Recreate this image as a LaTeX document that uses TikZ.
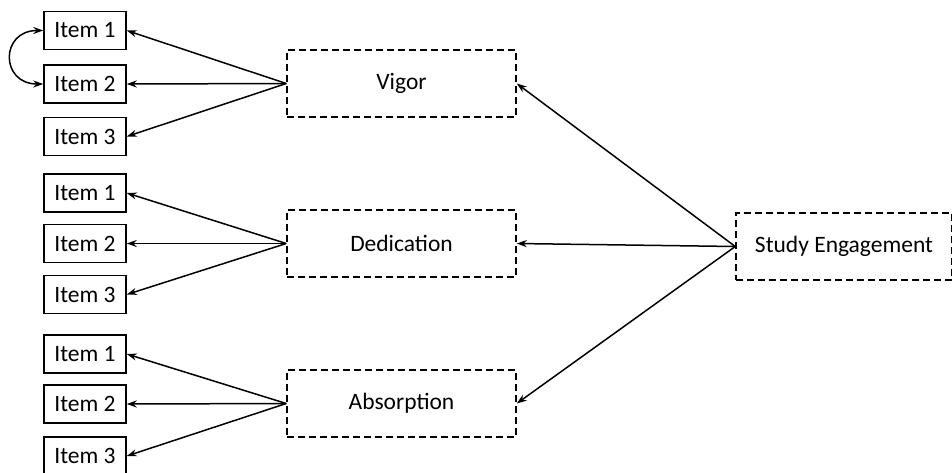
\documentclass[tikz,border=0pt]{standalone}
\usepackage{fontspec}
\setmainfont{Carlito}
\usetikzlibrary{arrows.meta}
\begin{document}
\begin{tikzpicture}[x=1pt,y=-1pt,
  every node/.style={font=\fontsize{23.5}{27}\selectfont, inner sep=0pt},
  item/.style={draw, line width=1.5pt, minimum width=82pt, minimum height=38pt},
  latent/.style={draw, line width=1.5pt, dash pattern=on 7pt off 4pt, minimum width=229pt, minimum height=67pt},
  arr/.style={line width=1.5pt, -{Stealth[length=10pt,width=7pt]}}]
\useasboundingbox (0,0) rectangle (952,472);
% items
\node[item] (a1) at (85,30.5) {Item 1};
\node[item] (a2) at (85,84) {Item 2};
\node[item] (a3) at (85,136.5) {Item 3};
\node[item] (b1) at (85,193) {Item 1};
\node[item] (b2) at (85,243.5) {Item 2};
\node[item] (b3) at (85,294.5) {Item 3};
\node[item] (c1) at (85,354) {Item 1};
\node[item] (c2) at (85,404) {Item 2};
\node[item] (c3) at (85,456) {Item 3};
% latent
\node[latent] (vig) at (401.5,83.5) {Vigor};
\node[latent] (ded) at (401.5,243.5) {Dedication};
\node[latent] (abs) at (401.5,403.5) {Absorption};
\node[latent, minimum width=216pt] (se) at (844,246.5) {Study Engagement};
% arrows
\foreach \t in {a1,a2,a3} \draw[arr] (vig.west) -- (\t.east);
\foreach \t in {b1,b2,b3} \draw[arr] (ded.west) -- (\t.east);
\foreach \t in {c1,c2,c3} \draw[arr] (abs.west) -- (\t.east);
\draw[arr] (se.west) -- (vig.east);
\draw[arr] (se.west) -- (ded.east);
\draw[arr] (se.west) -- (abs.east);
\draw[line width=1.5pt, {Stealth[length=10pt,width=7pt]}-{Stealth[length=10pt,width=7pt]}]
  (a1.west) .. controls (0,30.5) and (0,84) .. (a2.west);
\end{tikzpicture}
\end{document}
